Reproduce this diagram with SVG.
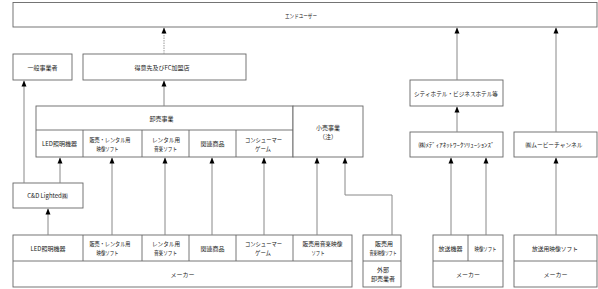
<svg xmlns="http://www.w3.org/2000/svg" width="598" height="289" viewBox="0 0 598 289">
<defs>
<marker id="arr" markerWidth="6" markerHeight="6" refX="6" refY="3" orient="auto" markerUnits="userSpaceOnUse" viewBox="0 0 6 6">
<path d="M0,0.5 L6,3 L0,5.5 Z" fill="#000"/>
</marker>
</defs>
<style>
.b{fill:#fff;stroke:#666;stroke-width:0.9}
.d{stroke:#666;stroke-width:0.9;fill:none}
.t{font-family:"Noto Sans CJK JP","Noto Sans",sans-serif;font-size:6px;fill:#222;text-anchor:middle;dominant-baseline:central}
.c{stroke:#888;stroke-width:1;fill:none;marker-end:url(#arr)}
.dash{stroke:#999;stroke-width:1;fill:none;stroke-dasharray:1.5 1;marker-end:url(#arr)}
</style>
<rect width="598" height="289" fill="#fff"/>
<g id="enduser"><rect class="b" x="13" y="2.5" width="584" height="24.5"/><text class="t" x="301" y="15" textLength="32" lengthAdjust="spacingAndGlyphs">エンドユーザー</text></g>
<g id="ippan"><rect class="b" x="13" y="54" width="59" height="26"/><text class="t" x="42.5" y="67">一般事業者</text></g>
<g id="tokui"><rect class="b" x="83" y="54" width="163" height="26"/><text class="t" x="162" y="67">得意先及びFC加盟店</text></g>
<g id="oroshi">
<rect class="b" x="36" y="106" width="257" height="51"/>
<line class="d" x1="36" y1="130" x2="293" y2="130"/>
<line class="d" x1="83" y1="130" x2="83" y2="157"/>
<line class="d" x1="142" y1="130" x2="142" y2="157"/>
<line class="d" x1="189" y1="130" x2="189" y2="157"/>
<line class="d" x1="236" y1="130" x2="236" y2="157"/>
<text class="t" x="161.5" y="118">卸売事業</text>
<text class="t" x="59.5" y="143.5">LED照明機器</text>
<text class="t" x="110" y="139" textLength="41" lengthAdjust="spacingAndGlyphs">販売・レンタル用</text><text class="t" x="107.5" y="148" textLength="22" lengthAdjust="spacingAndGlyphs">映像ソフト</text>
<text class="t" x="166" y="139" textLength="28" lengthAdjust="spacingAndGlyphs">レンタル用</text><text class="t" x="165.5" y="148" textLength="23" lengthAdjust="spacingAndGlyphs">音楽ソフト</text>
<text class="t" x="212.5" y="143.5">関連商品</text>
<text class="t" x="263.5" y="139" textLength="37" lengthAdjust="spacingAndGlyphs">コンシューマー</text><text class="t" x="263" y="148" textLength="16" lengthAdjust="spacingAndGlyphs">ゲーム</text>
</g>
<g id="kouri"><rect class="b" x="293" y="106" width="70" height="51"/><text class="t" x="328" y="127">小売事業</text><text class="t" x="328" y="136">（注）</text></g>
<g id="hotel"><rect class="b" x="410" y="80" width="93" height="26"/><text class="t" x="456" y="93" textLength="84" lengthAdjust="spacingAndGlyphs">シティホテル・ビジネスホテル等</text></g>
<g id="media"><rect class="b" x="410" y="132" width="93" height="25"/><text class="t" x="456.5" y="144.5" textLength="76" lengthAdjust="spacingAndGlyphs">㈱ﾒﾃﾞｨｱﾈｯﾄﾜｰｸｿﾘｭｰｼｮﾝｽﾞ</text></g>
<g id="movie"><rect class="b" x="514" y="132" width="83" height="25"/><text class="t" x="554" y="144.5" textLength="57" lengthAdjust="spacingAndGlyphs">㈱ムービーチャンネル</text></g>
<g id="cd"><rect class="b" x="13" y="183" width="70" height="25"/><text class="t" x="47.5" y="195.5">C&amp;D Lighted㈱</text></g>
<g id="maker1">
<rect class="b" x="13" y="235" width="339" height="52"/>
<line class="d" x1="13" y1="261" x2="352" y2="261"/>
<line class="d" x1="83" y1="235" x2="83" y2="261"/>
<line class="d" x1="142" y1="235" x2="142" y2="261"/>
<line class="d" x1="189" y1="235" x2="189" y2="261"/>
<line class="d" x1="236" y1="235" x2="236" y2="261"/>
<line class="d" x1="293" y1="235" x2="293" y2="261"/>
<text class="t" x="48" y="248">LED照明機器</text>
<text class="t" x="110" y="243.5" textLength="41" lengthAdjust="spacingAndGlyphs">販売・レンタル用</text><text class="t" x="107.5" y="252.5" textLength="22" lengthAdjust="spacingAndGlyphs">映像ソフト</text>
<text class="t" x="166" y="243.5" textLength="28" lengthAdjust="spacingAndGlyphs">レンタル用</text><text class="t" x="165.5" y="252.5" textLength="23" lengthAdjust="spacingAndGlyphs">音楽ソフト</text>
<text class="t" x="212.5" y="248">関連商品</text>
<text class="t" x="263.5" y="243.5" textLength="37" lengthAdjust="spacingAndGlyphs">コンシューマー</text><text class="t" x="263" y="252.5" textLength="16" lengthAdjust="spacingAndGlyphs">ゲーム</text>
<text class="t" x="322.5" y="243.5" textLength="40" lengthAdjust="spacingAndGlyphs">販売用音楽映像</text><text class="t" x="318" y="252.5" textLength="13" lengthAdjust="spacingAndGlyphs">ソフト</text>
<text class="t" x="182.5" y="274">メーカー</text>
</g>
<g id="gaibu">
<rect class="b" x="363" y="235" width="38" height="52"/>
<line class="d" x1="363" y1="261" x2="401" y2="261"/>
<text class="t" x="384" y="243.5">販売用</text><text class="t" x="383" y="252.5" textLength="27" lengthAdjust="spacingAndGlyphs">音楽映像ソフト</text>
<text class="t" x="383" y="269.5">外部</text><text class="t" x="383" y="278.5">卸売業者</text>
</g>
<g id="maker2">
<rect class="b" x="433" y="235" width="70" height="52"/>
<line class="d" x1="433" y1="261" x2="503" y2="261"/>
<line class="d" x1="468" y1="235" x2="468" y2="261"/>
<text class="t" x="450.5" y="248">放送機器</text>
<text class="t" x="485.5" y="248" textLength="22" lengthAdjust="spacingAndGlyphs">映像ソフト</text>
<text class="t" x="468" y="274">メーカー</text>
</g>
<g id="maker3">
<rect class="b" x="514" y="235" width="83" height="52"/>
<line class="d" x1="514" y1="261" x2="597" y2="261"/>
<text class="t" x="555" y="248" textLength="46" lengthAdjust="spacingAndGlyphs">放送用映像ソフト</text>
<text class="t" x="555.5" y="274">メーカー</text>
</g>
<g id="connectors">
<path class="dash" d="M164,54 V27.5"/>
<path class="c" d="M164,106 V80.5"/>
<path class="c" d="M24,183 V80.5"/>
<path class="c" d="M60,183 V157.5"/>
<path class="c" d="M48,235 V208.5"/>
<path class="c" d="M112,235 V157.5"/>
<path class="c" d="M165,235 V157.5"/>
<path class="c" d="M212,235 V157.5"/>
<path class="c" d="M264,235 V157.5"/>
<path class="c" d="M317,235 V157.5"/>
<path class="c" d="M392,235 V195 H345 V157.5"/>
<path class="c" d="M457,80 V27.5"/>
<path class="c" d="M457,132 V106.5"/>
<path class="c" d="M451,235 V157.5"/>
<path class="c" d="M486,235 V157.5"/>
<path class="c" d="M556,132 V27.5"/>
<path class="c" d="M556,235 V157.5"/>
</g>
</svg>
